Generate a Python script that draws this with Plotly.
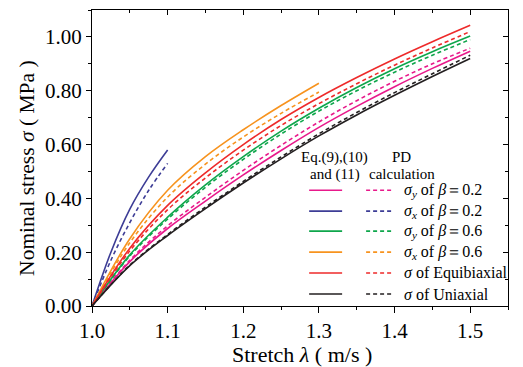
import plotly.graph_objects as go

# ---- data ----
lam = [1.0, 1.05, 1.1, 1.15, 1.2, 1.25, 1.3, 1.35, 1.4, 1.45, 1.5]
lam_short = [1.0, 1.05, 1.1, 1.15, 1.2, 1.25, 1.3]
lam_blue = [1.0, 1.025, 1.05, 1.075, 1.1]

sy02_eq = [0, 0.165, 0.288, 0.39, 0.487, 0.578, 0.664, 0.742, 0.815, 0.883, 0.947]
sy02_pd = [0, 0.170, 0.298, 0.404, 0.504, 0.597, 0.684, 0.763, 0.835, 0.900, 0.958]
sx02_eq = [0, 0.20, 0.36, 0.48, 0.58]
sx02_pd = [0, 0.17, 0.31, 0.43, 0.53]
sy06_eq = [0, 0.19, 0.33, 0.45, 0.555, 0.65, 0.735, 0.812, 0.882, 0.945, 1.003]
sy06_pd = [0, 0.186, 0.323, 0.441, 0.545, 0.639, 0.724, 0.80, 0.869, 0.932, 0.99]
sx06_eq = [0, 0.25, 0.43, 0.555, 0.655, 0.745, 0.828]
sx06_pd = [0, 0.235, 0.405, 0.527, 0.628, 0.716, 0.795]
equi_eq = [0, 0.215, 0.374, 0.495, 0.60, 0.693, 0.775, 0.849, 0.918, 0.982, 1.043]
equi_pd = [0, 0.205, 0.358, 0.476, 0.579, 0.671, 0.752, 0.826, 0.895, 0.959, 1.02]
uni_eq = [0, 0.15, 0.262, 0.362, 0.457, 0.547, 0.632, 0.71, 0.783, 0.853, 0.92]
uni_pd = [0, 0.152, 0.266, 0.367, 0.463, 0.554, 0.64, 0.719, 0.793, 0.863, 0.932]

x_ticks = [1.0, 1.1, 1.2, 1.3, 1.4, 1.5]
y_ticks = [0.0, 0.2, 0.4, 0.6, 0.8, 1.0]

PINK = "#E8198B"
BLUE = "#3D3D96"
GREEN = "#0EA64B"
ORANGE = "#F7931E"
RED = "#EE2A2A"
BLACK = "#231F20"

legend_rows = [
    (PINK, "<i>σ<sub>y</sub></i> of <i>β</i>＝0.2"),
    (BLUE, "<i>σ<sub>x</sub></i> of <i>β</i>＝0.2"),
    (GREEN, "<i>σ<sub>y</sub></i> of <i>β</i>＝0.6"),
    (ORANGE, "<i>σ<sub>x</sub></i> of <i>β</i>＝0.6"),
    (RED, "<i>σ</i> of Equibiaxial"),
    (BLACK, "<i>σ</i> of Uniaxial"),
]

FONT = "Liberation Serif, Times New Roman, serif"
DASH = "4px,3px"

series = [
    (lam, sy02_eq, sy02_pd, PINK),
    (lam_blue, sx02_eq, sx02_pd, BLUE),
    (lam, sy06_eq, sy06_pd, GREEN),
    (lam_short, sx06_eq, sx06_pd, ORANGE),
    (lam, equi_eq, equi_pd, RED),
    (lam, uni_eq, uni_pd, BLACK),
]

fig = go.Figure()
for xs, ye, yp, c in series:
    fig.add_trace(go.Scatter(x=xs, y=yp, mode="lines",
                             line=dict(color=c, width=1.6, dash=DASH, shape="spline"),
                             showlegend=False, hoverinfo="skip"))
    fig.add_trace(go.Scatter(x=xs, y=ye, mode="lines",
                             line=dict(color=c, width=1.6, shape="spline"),
                             showlegend=False, hoverinfo="skip"))

# dummy trace to create mirrored top/right axes
fig.add_trace(go.Scatter(x=[None], y=[None], xaxis="x2", yaxis="y2", showlegend=False))

tickfont = dict(family=FONT, size=21, color="black")
fig.update_layout(
    width=523, height=367,
    margin=dict(l=92, r=15, t=10, b=61),
    paper_bgcolor="white", plot_bgcolor="white",
    font=dict(family=FONT, color="black"),
    xaxis=dict(range=[1.0, 1.55], tickvals=x_ticks, tickformat=".1f",
               ticks="outside", ticklen=6, tickwidth=1, tickcolor="black",
               minor=dict(dtick=0.05, ticks="outside", ticklen=3, tickcolor="black"),
               showline=True, linecolor="black", linewidth=1, showgrid=False,
               zeroline=False, tickfont=tickfont),
    yaxis=dict(range=[0, 1.1], tickvals=y_ticks, tickformat=".2f",
               ticks="outside", ticklen=5, tickwidth=1, tickcolor="black",
               minor=dict(dtick=0.1, ticks="outside", ticklen=3, tickcolor="black"),
               showline=True, linecolor="black", linewidth=1, showgrid=False,
               zeroline=False, tickfont=tickfont),
    xaxis2=dict(range=[1.0, 1.55], overlaying="x", side="top", anchor="y",
                tickvals=x_ticks, showticklabels=False,
                ticks="inside", ticklen=5, tickcolor="black",
                minor=dict(dtick=0.05, ticks="inside", ticklen=3, tickcolor="black"),
                showline=True, linecolor="black", linewidth=1, showgrid=False, zeroline=False),
    yaxis2=dict(range=[0, 1.1], overlaying="y", side="right", anchor="x",
                tickvals=y_ticks, showticklabels=False,
                ticks="inside", ticklen=5, tickcolor="black",
                minor=dict(dtick=0.1, ticks="inside", ticklen=3, tickcolor="black"),
                showline=True, linecolor="black", linewidth=1, showgrid=False, zeroline=False),
)

# axis titles
fig.add_annotation(text="Stretch <i>λ</i> ( m/s )", xref="paper", yref="paper",
                   x=0.505, y=-0.165, xanchor="center", yanchor="middle",
                   showarrow=False, font=dict(family=FONT, size=22))
fig.add_annotation(text="Nominal stress <i>σ</i> ( MPa )", xref="paper", yref="paper",
                   x=-0.155, y=0.465, xanchor="center", yanchor="middle", textangle=-90,
                   showarrow=False, font=dict(family=FONT, size=21.5))

# custom legend
W, H = 416.3, 296.5
def px2p(px, py):
    return (px - 91.7) / W, (306 - py) / H

lf = dict(family=FONT, size=15, color="black")
for (txt, cx, cy) in [("Eq.(9),(10)", 334, 157), ("and (11)", 335, 174),
                      ("PD", 401, 157), ("calculation", 402, 174)]:
    xp, yp = px2p(cx, cy)
    fig.add_annotation(text=txt, xref="paper", yref="paper", x=xp, y=yp,
                       xanchor="center", yanchor="middle", showarrow=False, font=lf)

lf2 = dict(family=FONT, size=16, color="black")
row_y = [190, 211, 231, 252, 273, 294]
for (c, label), py in zip(legend_rows, row_y):
    x0, yy = px2p(309, py)
    x1, _ = px2p(342, py)
    fig.add_shape(type="line", xref="paper", yref="paper", x0=x0, x1=x1, y0=yy, y1=yy,
                  line=dict(color=c, width=1.6))
    x0, _ = px2p(366, py)
    x1, _ = px2p(393, py)
    fig.add_shape(type="line", xref="paper", yref="paper", x0=x0, x1=x1, y0=yy, y1=yy,
                  line=dict(color=c, width=1.6, dash=DASH))
    xt, _ = px2p(402, py)
    fig.add_annotation(text=label, xref="paper", yref="paper", x=xt, y=yy,
                       xanchor="left", yanchor="middle", showarrow=False, font=lf2)

fig.write_html("out.html")
